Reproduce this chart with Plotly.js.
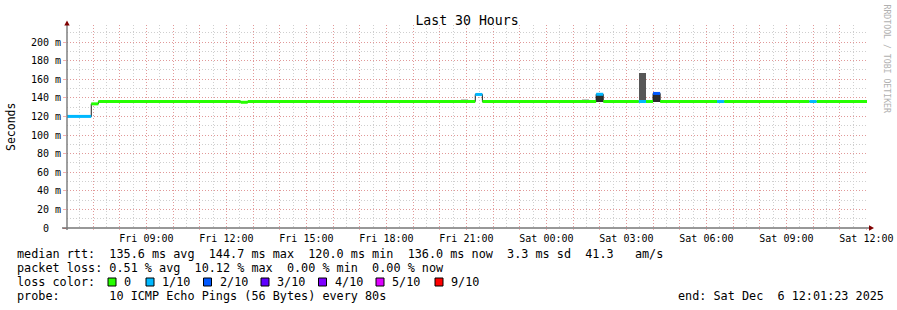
<!DOCTYPE html>
<html>
<head>
<meta charset="utf-8">
<script src="https://cdn.plot.ly/plotly-3.0.1.min.js"></script>
<style>
  html, body { margin: 0; padding: 0; background: #ffffff; }
  #chart { width: 897px; height: 310px; }
</style>
</head>
<body>
<div id="chart"></div>
<script>
// ---------------- data ----------------
const graphStart = '2025-12-05 06:01:23';
const graphEnd   = '2025-12-06 12:01:23';

// median RTT, run-length: each run starts at runStart[i] and lasts until the next one
const runStart = [
  '2025-12-05 06:01:23', '2025-12-05 06:56', '2025-12-05 07:12', '2025-12-05 12:32',
  '2025-12-05 12:48', '2025-12-05 21:20', '2025-12-05 21:36', '2025-12-06 01:52',
  '2025-12-06 02:08', '2025-12-06 03:28', '2025-12-06 03:44', '2025-12-06 04:00',
  '2025-12-06 04:16', '2025-12-06 06:24', '2025-12-06 06:40', '2025-12-06 09:52',
  '2025-12-06 10:08'
];
const medianMs = [120.0, 133.5, 136.0, 135.2, 136.0, 143.6, 136.0, 143.8,
                  136.0, 136.0, 136.0, 144.7, 136.0, 136.0, 136.0, 136.0, 136.0];
const lostPings = [1, 0, 0, 0, 0, 1, 0, 1, 0, 1, 0, 1.012, 0, 1, 0, 1, 0];

// smoke (ping spread) per 16-minute bin
const smokeStart = ['2025-12-05 20:48', '2025-12-06 01:20', '2025-12-06 01:52',
                    '2025-12-06 03:28', '2025-12-06 04:00'];
const smokeLoMs = [136.0, 136.0, 135.5, 135.5, 135.5];
const smokeHiMs = [138.2, 138.2, 143.8, 166.7, 144.7];
const binMs = 16 * 60 * 1000;

// loss colour legend
const lossThresholds = [0, 1, 2, 3, 4, 5, 9];
const lossLabels = ['0', '1/10', '2/10', '3/10', '4/10', '5/10', '9/10'];
const lossColors = ['#26ff00', '#00b8ff', '#0059ff', '#5e00ff', '#7e00ff', '#dd00ff', '#ff0000'];

// y ticks (ms)
const yTicks = [0, 20, 40, 60, 80, 100, 120, 140, 160, 180, 200];

// legend text
const legendRow1 = 'median rtt:  135.6 ms avg  144.7 ms max  120.0 ms min  136.0 ms now  3.3 ms sd  41.3   am/s';
const legendRow2 = 'packet loss: 0.51 % avg  10.12 % max  0.00 % min  0.00 % now';
const legendRow3 = 'loss color:';
const legendRow4 = 'probe:       10 ICMP Echo Pings (56 Bytes) every 80s';
const endText = 'end: Sat Dec  6 12:01:23 2025';
const titleText = 'Last 30 Hours';
const yTitle = 'Seconds';
const watermark = 'RRDTOOL / TOBI OETIKER';

// ---------------- layout geometry ----------------
const W = 897, H = 310, L = 67, R = 867, T = 25, B = 228;
const px = x => (x - L) / (R - L);
const py = y => (B - y) / (B - T);
const mono = 'DejaVu Sans Mono, Liberation Mono, monospace';
const nb = s => s.replace(/ /g, '\u00a0');

function lossColor(l) {
  for (let i = 0; i < lossThresholds.length; i++) if (l <= lossThresholds[i]) return lossColors[i];
  return lossColors[lossColors.length - 1];
}

const traces = [];

// smoke
traces.push({
  type: 'bar',
  x: smokeStart,
  base: smokeLoMs,
  y: smokeHiMs.map((h, i) => h - smokeLoMs[i]),
  width: smokeStart.map(() => binMs),
  offset: smokeStart.map(() => 0),
  marker: {
    color: smokeHiMs.map((h, i) => {
      const s = h - smokeLoMs[i];
      return s < 5 ? '#c4c4c4' : (s > 20 ? '#575757' : '#2c2c2c');
    }),
    line: {width: 0}
  },
  showlegend: false, hoverinfo: 'skip'
});

// thin black median step line
traces.push({
  type: 'scatter', mode: 'lines',
  x: runStart.concat([graphEnd]),
  y: medianMs.concat([medianMs[medianMs.length - 1]]),
  line: {color: '#202020', width: 1, shape: 'hv'},
  showlegend: false, hoverinfo: 'skip'
});

// thick coloured median segments by loss
const runEnd = runStart.slice(1).concat([graphEnd]);
lossColors.forEach(col => {
  const xs = [], ys = [];
  runStart.forEach((s, i) => {
    if (lossColor(lostPings[i]) === col) {
      xs.push(s, runEnd[i], null);
      ys.push(medianMs[i], medianMs[i], null);
    }
  });
  if (xs.length) traces.push({
    type: 'scatter', mode: 'lines', x: xs, y: ys,
    line: {color: col, width: 3}, connectgaps: false,
    showlegend: false, hoverinfo: 'skip'
  });
});

// x tick values: every hour, labels every 3 hours
const days = ['Sun', 'Mon', 'Tue', 'Wed', 'Thu', 'Fri', 'Sat'];
const pad = n => String(n).padStart(2, '0');
const xTickVals = [], xTickText = [];
for (let t = Date.UTC(2025, 11, 5, 7); t <= Date.UTC(2025, 11, 6, 12); t += 3600000) {
  const d = new Date(t);
  const s = d.getUTCFullYear() + '-' + pad(d.getUTCMonth() + 1) + '-' + pad(d.getUTCDate()) +
            ' ' + pad(d.getUTCHours()) + ':00';
  xTickVals.push(s);
  xTickText.push(d.getUTCHours() % 3 === 0 ? days[d.getUTCDay()] + ' ' + pad(d.getUTCHours()) + ':00' : '');
}

const majorGrid = 'rgba(240,110,110,0.55)';
const minorGrid = '#cfcfcf';

const annotations = [];
function addText(text, x, y, opts) {
  annotations.push(Object.assign({
    text: nb(text), xref: 'paper', yref: 'paper', x: px(x), y: py(y),
    xanchor: 'left', yanchor: 'middle', showarrow: false, borderpad: 0,
    font: {family: mono, size: 11.8, color: '#000'}
  }, opts || {}));
}
addText(legendRow1, 16, 254);
addText(legendRow2, 16, 268);
addText(legendRow3, 16, 282);
addText(legendRow4, 16, 296);
addText(endText, 677, 296);
addText(yTitle, 11, 127, {xanchor: 'center', textangle: -90, font: {family: mono, size: 11.5, color: '#000'}});
addText(watermark, 886.5, 59, {xanchor: 'center', textangle: 90, font: {family: mono, size: 8.2, color: '#b0b0b0'}});

const swatchX = [108, 146, 203.5, 261, 318.5, 376, 435];
const shapes = [];
lossLabels.forEach((lab, i) => {
  shapes.push({
    type: 'rect', xref: 'paper', yref: 'paper',
    x0: px(swatchX[i]), x1: px(swatchX[i] + 8), y0: py(286), y1: py(278),
    fillcolor: lossColors[i], line: {color: '#000', width: 1}
  });
  addText(lab, swatchX[i] + 15, 282);
});

// axis extensions and arrows
shapes.push({type: 'line', xref: 'paper', yref: 'paper', x0: px(62), x1: px(869), y0: py(228), y1: py(228),
             line: {color: '#333', width: 1.2}});
shapes.push({type: 'line', xref: 'paper', yref: 'paper', x0: px(67), x1: px(67), y0: py(230), y1: py(23),
             line: {color: '#777', width: 1.4}});
shapes.push({type: 'path', xref: 'paper', yref: 'paper',
             path: `M${px(67)},${py(20.5)} L${px(64.3)},${py(25.5)} L${px(69.7)},${py(25.5)} Z`,
             fillcolor: '#800000', line: {width: 0}});
shapes.push({type: 'path', xref: 'paper', yref: 'paper',
             path: `M${px(874)},${py(228)} L${px(869)},${py(225.3)} L${px(869)},${py(230.7)} Z`,
             fillcolor: '#800000', line: {width: 0}});

const layout = {
  width: W, height: H,
  margin: {l: L, r: W - R, t: T, b: H - B, pad: 0},
  paper_bgcolor: '#ffffff', plot_bgcolor: '#ffffff',
  showlegend: false,
  title: {text: titleText, font: {family: mono, size: 13.2, color: '#000'},
          x: 0.5, xref: 'paper', xanchor: 'center', y: 1 - 20 / H, yanchor: 'middle'},
  xaxis: {
    type: 'date', range: [graphStart, graphEnd], fixedrange: true,
    tickmode: 'array', tickvals: xTickVals, ticktext: xTickText,
    ticks: 'outside', ticklen: 1, tickcolor: majorGrid,
    tickfont: {family: mono, size: 10, color: '#000'},
    showgrid: true, gridcolor: majorGrid, griddash: '1px,2px', gridwidth: 1,
    minor: {tickmode: 'linear', tick0: '2025-12-05 00:00', dtick: 1800000,
            showgrid: true, gridcolor: minorGrid, griddash: '1px,2px', gridwidth: 1, ticks: ''},
    showline: false, zeroline: false
  },
  yaxis: {
    range: [0, 218.3], fixedrange: true,
    tickmode: 'array', tickvals: yTicks,
    ticktext: yTicks.map(v => v === 0 ? '0\u00a0\u00a0' : v + '\u00a0m'),
    ticks: 'outside', ticklen: 3, tickcolor: majorGrid,
    tickfont: {family: mono, size: 10, color: '#000'},
    showgrid: true, gridcolor: majorGrid, griddash: '1px,2px', gridwidth: 1,
    minor: {tickmode: 'linear', tick0: 0, dtick: 10,
            showgrid: true, gridcolor: minorGrid, griddash: '1px,2px', gridwidth: 1, ticks: ''},
    showline: false, zeroline: false
  },
  annotations: annotations,
  shapes: shapes,
  bargap: 0
};

Plotly.newPlot('chart', traces, layout, {staticPlot: true, displayModeBar: false});
</script>
</body>
</html>
